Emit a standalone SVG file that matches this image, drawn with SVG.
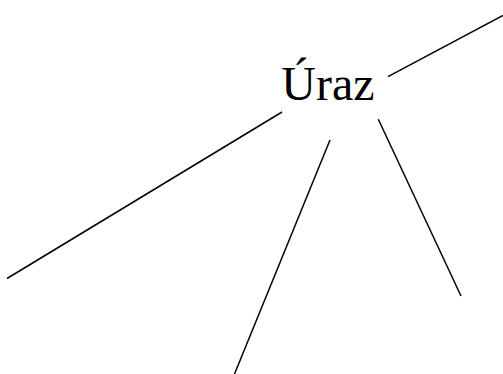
<svg xmlns="http://www.w3.org/2000/svg" width="503" height="374" viewBox="0 0 503 374">
<style>
.lbl{font-family:"Liberation Serif","Times New Roman",serif;font-size:48px;fill:#000}
.edge{stroke:#000;stroke-width:1.5;fill:none}
</style>
<rect width="503" height="374" fill="#fff"/>
<g id="connectors">
<line class="edge" x1="282" y1="112" x2="7" y2="278.5"/>
<line class="edge" x1="330" y1="140" x2="234.5" y2="374"/>
<line class="edge" x1="378.3" y1="119.3" x2="461" y2="296"/>
<line class="edge" x1="388" y1="76.7" x2="503" y2="15.5"/>
</g>
<g id="node-uraz">
<text class="lbl" x="328" y="100" text-anchor="middle">Úraz</text>
</g>
</svg>
